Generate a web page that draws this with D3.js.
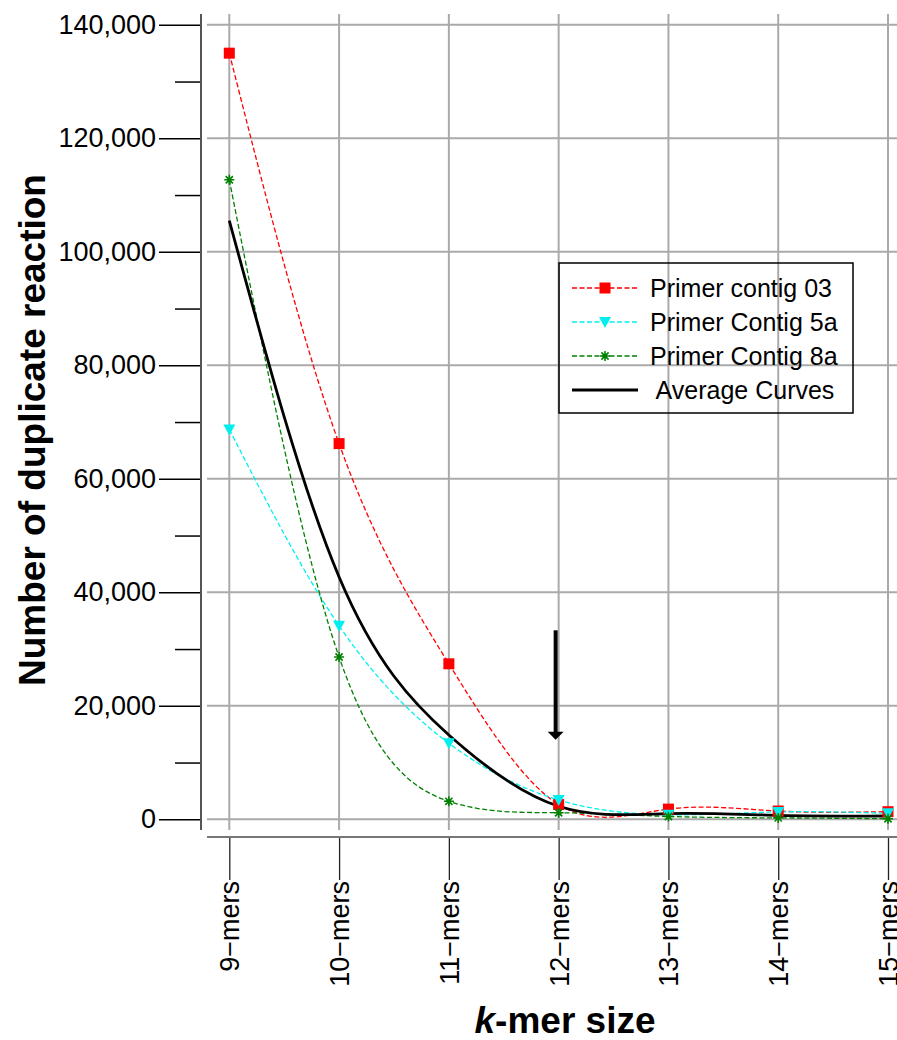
<!DOCTYPE html>
<html>
<head>
<meta charset="utf-8">
<script src="https://cdn.jsdelivr.net/npm/d3@7"></script>
<style>
  html, body { margin: 0; padding: 0; background: #fff; }
  svg { display: block; font-family: "Liberation Sans", Arial, sans-serif; }
</style>
</head>
<body>
<svg id="chart" width="897" height="1040"></svg>
<script>
// ---- data ----
const kmers = [9, 10, 11, 12, 13, 14, 15];
const tickLabels = ["9\u2212mers", "10\u2212mers", "11\u2212mers", "12\u2212mers", "13\u2212mers", "14\u2212mers", "15\u2212mers"];
const contig03 = [135000, 66200, 27400, 2600, 1800, 1460, 1340];
const contig5a = [68700, 34100, 13400, 3400, 800, 1300, 1050];
const contig8a = [112700, 28600, 3170, 1160, 500, 250, 100];
const averageCurve = [105500, 42700, 14850, 2300, 1000, 700, 580];
const seriesNames = ["Primer contig 03", "Primer Contig 5a", "Primer Contig 8a", " Average Curves"];
const yTicks = [0, 20000, 40000, 60000, 80000, 100000, 120000, 140000];
const yMinorTicks = [10000, 30000, 50000, 70000, 90000, 110000, 130000];
const arrowFrom = 33300, arrowTo = 14200, arrowAt = 12;

const svg = d3.select("#chart");
const x = d3.scaleLinear().domain([9, 15]).range([229.3, 888]);
const y = d3.scaleLinear().domain([0, 140000]).range([819.3, 24.8]);

const gridColor = "#aaaaaa";
// grid
const grid = svg.append("g");
grid.selectAll("line.h").data(yTicks).join("line")
  .attr("x1", 207).attr("x2", 897)
  .attr("y1", d => y(d)).attr("y2", d => y(d))
  .attr("stroke", gridColor).attr("stroke-width", 2);
grid.selectAll("line.v").data(kmers).join("line")
  .attr("x1", d => x(d)).attr("x2", d => x(d))
  .attr("y1", 14).attr("y2", 830)
  .attr("stroke", gridColor).attr("stroke-width", 2);

// y axis
const yAxisG = svg.append("g").attr("transform", "translate(201,0)")
  .call(d3.axisLeft(y).tickValues(yTicks).tickSize(42).tickPadding(3).tickFormat(d3.format(",")));
yAxisG.select(".domain").remove();
yAxisG.selectAll(".tick line").attr("stroke", "#000").attr("stroke-width", 1.5);
yAxisG.selectAll(".tick text").attr("font-size", 27).attr("fill", "#000")
  .attr("font-family", "Liberation Sans, Arial, sans-serif");
const yMinorG = svg.append("g").attr("transform", "translate(201,0)")
  .call(d3.axisLeft(y).tickValues(yMinorTicks).tickSize(26).tickFormat(""));
yMinorG.select(".domain").remove();
yMinorG.selectAll(".tick line").attr("stroke", "#000").attr("stroke-width", 1.5);
svg.append("line").attr("x1", 201).attr("x2", 201).attr("y1", 14).attr("y2", 830)
  .attr("stroke", "#555").attr("stroke-width", 2);

// x axis
const xAxisG = svg.append("g").attr("transform", "translate(0,837)")
  .call(d3.axisBottom(x).tickValues(kmers).tickSize(43).tickPadding(0)
    .tickFormat((d, i) => tickLabels[i]));
xAxisG.select(".domain").remove();
xAxisG.selectAll(".tick line").attr("stroke", "#222").attr("stroke-width", 1.3);
xAxisG.selectAll(".tick text")
  .attr("font-size", 27).attr("fill", "#000")
  .attr("font-family", "Liberation Sans, Arial, sans-serif")
  .attr("transform", "translate(0,44) rotate(-90)")
  .attr("x", 0).attr("y", 0).attr("dy", "0.35em")
  .attr("text-anchor", "end");
svg.append("line").attr("x1", 207).attr("x2", 897).attr("y1", 837).attr("y2", 837)
  .attr("stroke", "#777").attr("stroke-width", 2);

// axis titles
svg.append("text").attr("transform", "translate(45,430) rotate(-90)")
  .attr("text-anchor", "middle").attr("font-size", 37).attr("font-weight", "bold").attr("fill", "#000")
  .text("Number of duplicate reaction");
const xt = svg.append("text").attr("x", 565).attr("y", 1033)
  .attr("text-anchor", "middle").attr("font-size", 37).attr("font-weight", "bold").attr("fill", "#000");
xt.append("tspan").attr("font-style", "italic").text("k");
xt.append("tspan").text("-mer size");

// series
const series = [
  { name: seriesNames[0], values: contig03, color: "#ff0000", marker: "square", dash: "5,2.5", width: 1.3, curve: d3.curveNatural },
  { name: seriesNames[1], values: contig5a, color: "#00f0f0", marker: "tri", dash: "5,2.5", width: 1.3, curve: d3.curveNatural },
  { name: seriesNames[2], values: contig8a, color: "#008000", marker: "star", dash: "5,2.5", width: 1.3, curve: d3.curveNatural },
  { name: seriesNames[3], values: averageCurve, color: "#000000", marker: null, dash: null, width: 2.8, curve: d3.curveNatural }
];

function drawMarker(g, type, color, cx, cy) {
  if (type === "square") {
    g.append("rect").attr("x", cx - 5.5).attr("y", cy - 5.5).attr("width", 11).attr("height", 11).attr("fill", color);
  } else if (type === "tri") {
    g.append("path").attr("d", `M${cx - 6},${cy - 5}L${cx + 6},${cy - 5}L${cx},${cy + 6}Z`).attr("fill", color);
  } else if (type === "star") {
    const r = 5;
    const d = `M${cx - r},${cy}L${cx + r},${cy}M${cx},${cy - r}L${cx},${cy + r}` +
      `M${cx - r * 0.72},${cy - r * 0.72}L${cx + r * 0.72},${cy + r * 0.72}M${cx - r * 0.72},${cy + r * 0.72}L${cx + r * 0.72},${cy - r * 0.72}`;
    g.append("path").attr("d", d).attr("stroke", color).attr("stroke-width", 1.6).attr("fill", "none");
  }
}

const plot = svg.append("g");
series.forEach(s => {
  const line = d3.line().x((d, i) => x(kmers[i])).y(d => y(d)).curve(s.curve);
  plot.append("path").datum(s.values).attr("d", line)
    .attr("fill", "none").attr("stroke", s.color).attr("stroke-width", s.width)
    .attr("stroke-dasharray", s.dash);
});
series.forEach(s => {
  if (!s.marker) return;
  const g = plot.append("g");
  s.values.forEach((v, i) => drawMarker(g, s.marker, s.color, x(kmers[i]), y(v)));
});

// arrow
const ax = x(arrowAt) - 3;
svg.append("line").attr("x1", ax).attr("x2", ax).attr("y1", y(arrowFrom)).attr("y2", y(arrowTo) - 4)
  .attr("stroke", "#000").attr("stroke-width", 4);
svg.append("path").attr("d", `M${ax - 8},${y(arrowTo) - 7}L${ax + 8},${y(arrowTo) - 7}L${ax},${y(arrowTo) + 1}Z`).attr("fill", "#000");

// legend
const lg = svg.append("g");
lg.append("rect").attr("x", 559).attr("y", 263).attr("width", 294).attr("height", 150)
  .attr("fill", "none").attr("stroke", "#000").attr("stroke-width", 1.5);
series.forEach((s, i) => {
  const cy = 288 + i * 34;
  lg.append("line").attr("x1", 572).attr("x2", 638).attr("y1", cy).attr("y2", cy)
    .attr("stroke", s.color).attr("stroke-width", s.marker ? 1.3 : 2.8).attr("stroke-dasharray", s.dash);
  if (s.marker) drawMarker(lg, s.marker, s.color, 605, cy);
  lg.append("text").attr("x", 650).attr("y", cy).attr("dy", "0.35em")
    .attr("font-size", 25).attr("fill", "#000").attr("xml:space", "preserve")
    .style("white-space", "pre").text(s.name);
});
</script>
</body>
</html>
